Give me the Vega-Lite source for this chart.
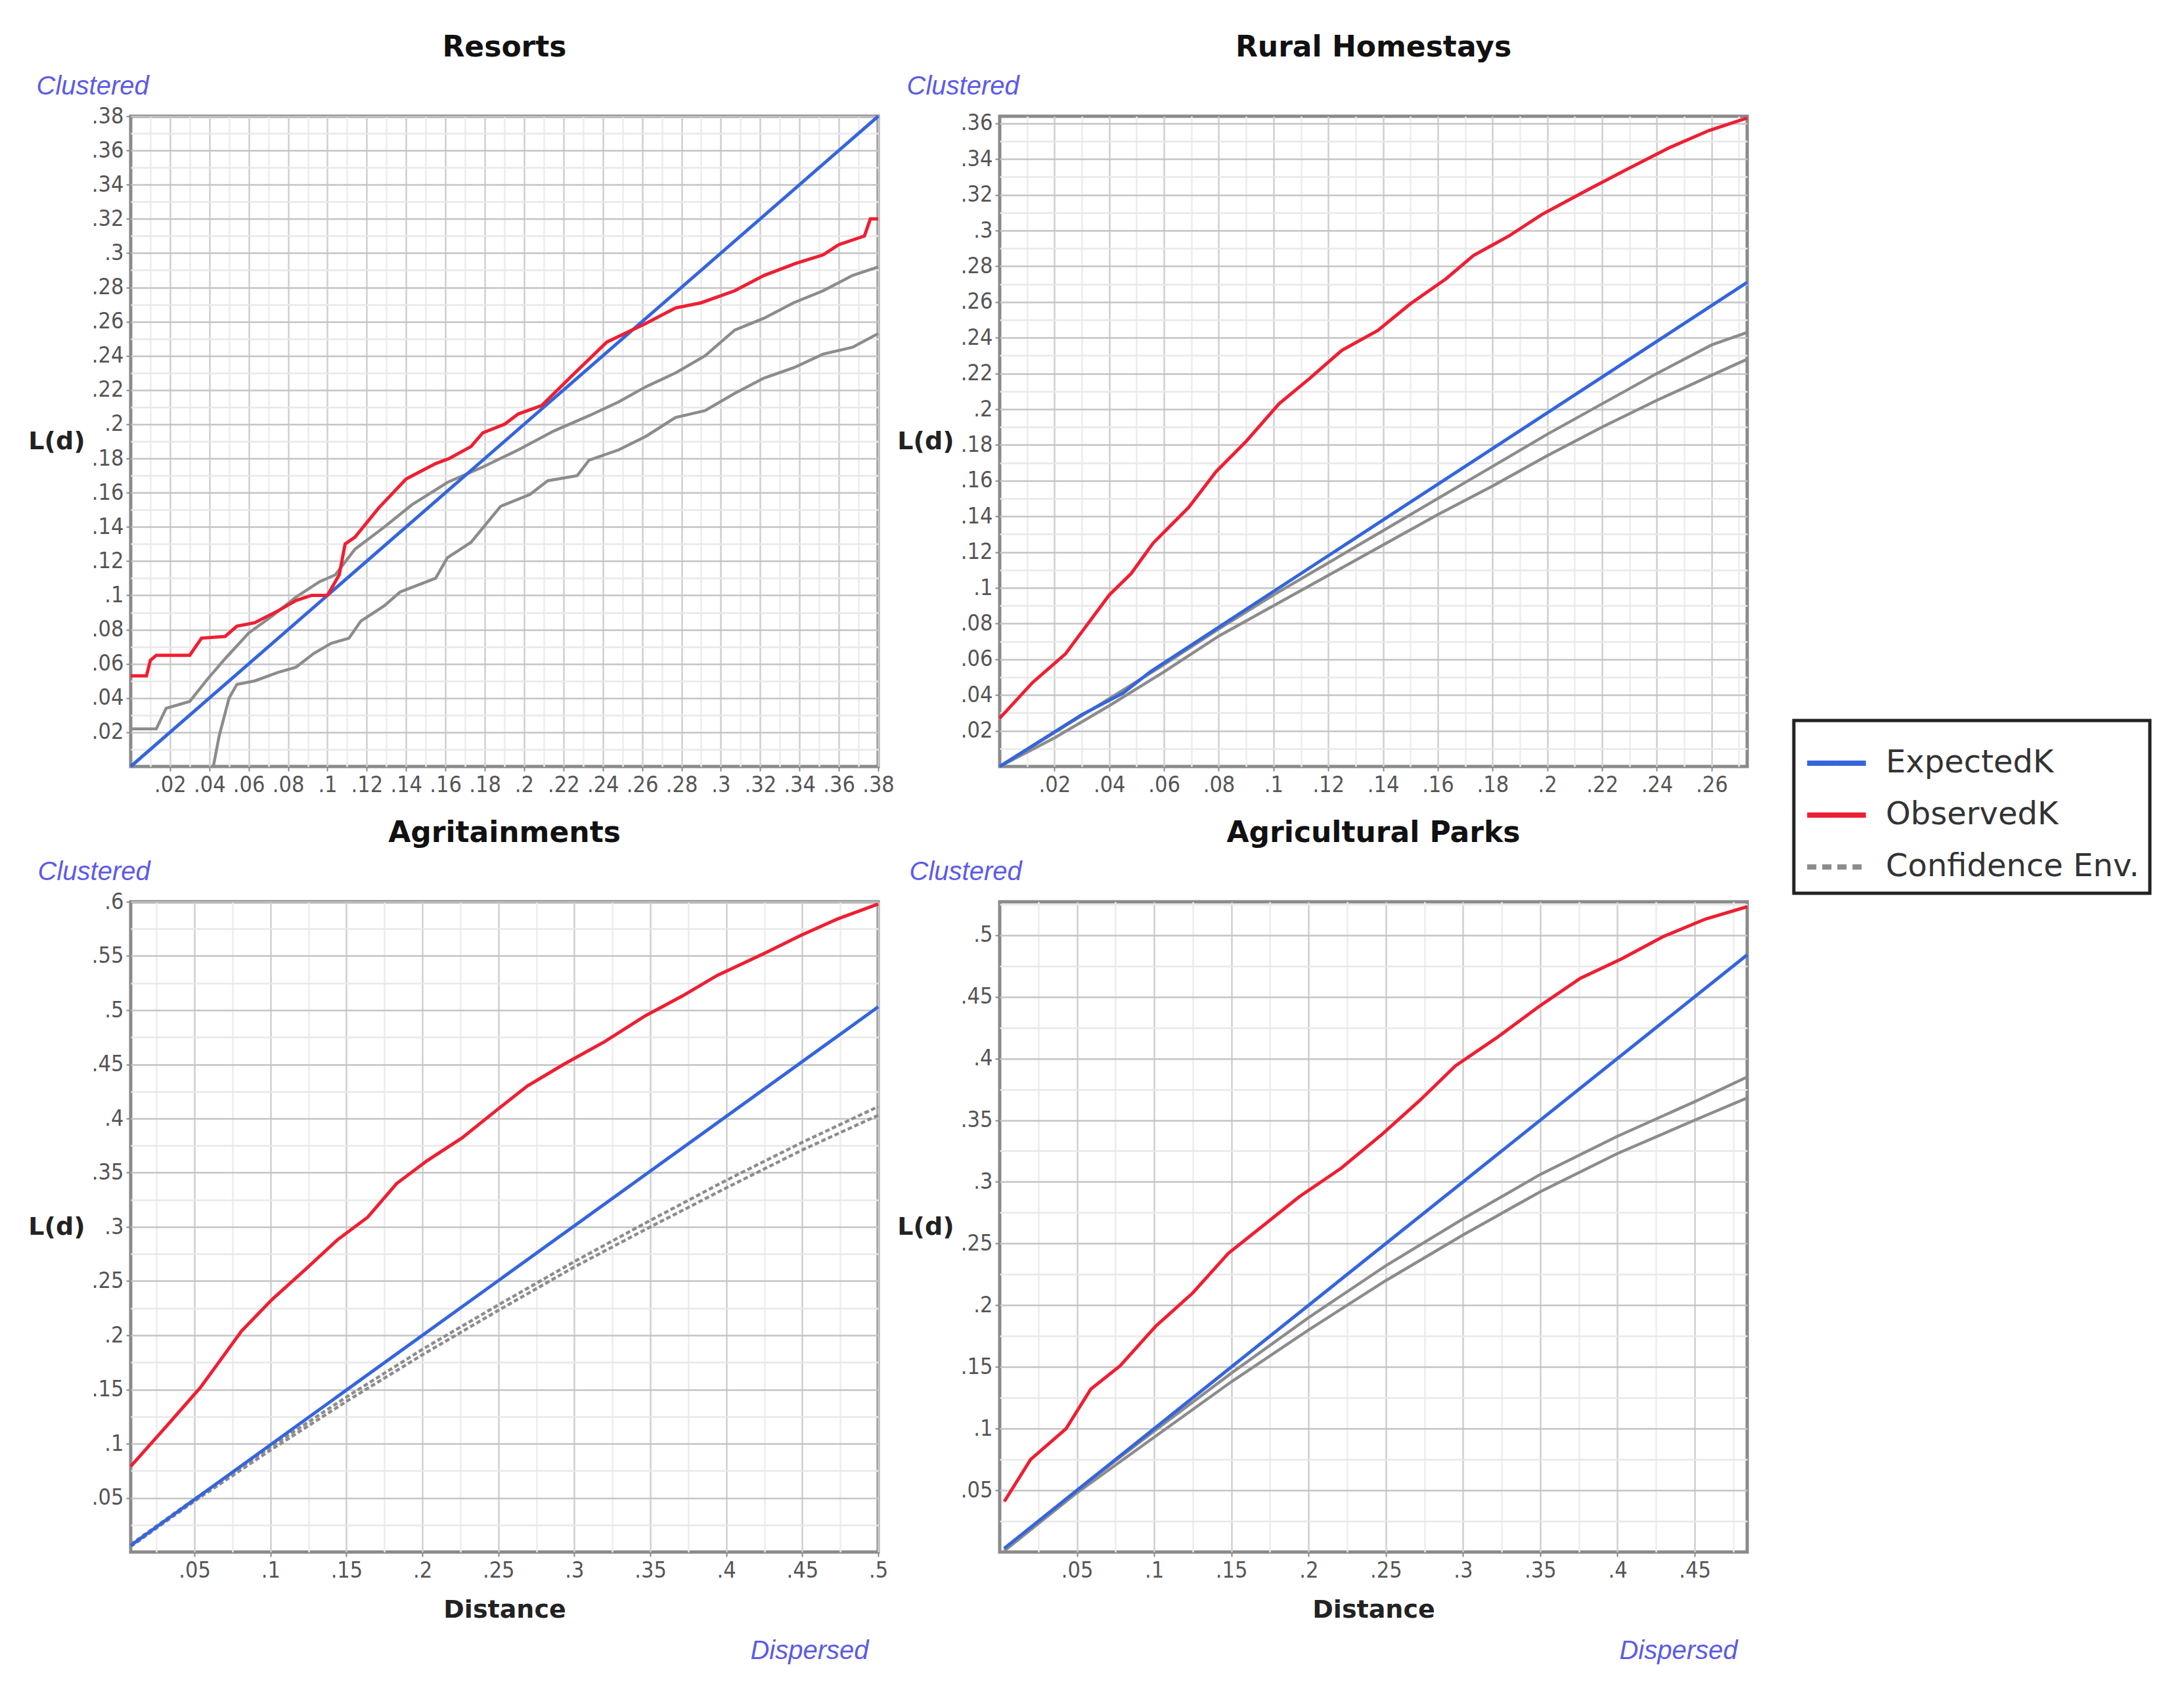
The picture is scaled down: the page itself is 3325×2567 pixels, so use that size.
{
  "$schema": "https://vega.github.io/schema/vega-lite/v6.json",
  "padding": {"left": 40, "top": 48, "right": 10, "bottom": 10},
  "background": "white",
  "bounds": "flush",
  "spacing": {"row": 206, "column": 185},
  "columns": 2,
  "datasets": {
    "Resorts": [
      {"s":"Confidence Env.","e":"Upper","d":0,"L":0.022},{"s":"Confidence Env.","e":"Upper","d":0.013,"L":0.022},{"s":"Confidence Env.","e":"Upper","d":0.018,"L":0.034},{"s":"Confidence Env.","e":"Upper","d":0.03,"L":0.038},{"s":"Confidence Env.","e":"Upper","d":0.039,"L":0.051},{"s":"Confidence Env.","e":"Upper","d":0.048,"L":0.063},{"s":"Confidence Env.","e":"Upper","d":0.06,"L":0.078},{"s":"Confidence Env.","e":"Upper","d":0.072,"L":0.088},{"s":"Confidence Env.","e":"Upper","d":0.084,"L":0.099},{"s":"Confidence Env.","e":"Upper","d":0.096,"L":0.108},{"s":"Confidence Env.","e":"Upper","d":0.104,"L":0.112},{"s":"Confidence Env.","e":"Upper","d":0.114,"L":0.127},{"s":"Confidence Env.","e":"Upper","d":0.129,"L":0.14},{"s":"Confidence Env.","e":"Upper","d":0.143,"L":0.153},{"s":"Confidence Env.","e":"Upper","d":0.161,"L":0.166},{"s":"Confidence Env.","e":"Upper","d":0.179,"L":0.175},{"s":"Confidence Env.","e":"Upper","d":0.197,"L":0.185},{"s":"Confidence Env.","e":"Upper","d":0.215,"L":0.196},{"s":"Confidence Env.","e":"Upper","d":0.233,"L":0.205},{"s":"Confidence Env.","e":"Upper","d":0.248,"L":0.213},{"s":"Confidence Env.","e":"Upper","d":0.262,"L":0.222},{"s":"Confidence Env.","e":"Upper","d":0.277,"L":0.23},{"s":"Confidence Env.","e":"Upper","d":0.292,"L":0.24},{"s":"Confidence Env.","e":"Upper","d":0.307,"L":0.255},{"s":"Confidence Env.","e":"Upper","d":0.322,"L":0.262},{"s":"Confidence Env.","e":"Upper","d":0.337,"L":0.271},{"s":"Confidence Env.","e":"Upper","d":0.352,"L":0.278},{"s":"Confidence Env.","e":"Upper","d":0.367,"L":0.287},{"s":"Confidence Env.","e":"Upper","d":0.38,"L":0.292},
      {"s":"Confidence Env.","e":"Lower","d":0.042,"L":0},{"s":"Confidence Env.","e":"Lower","d":0.045,"L":0.018},{"s":"Confidence Env.","e":"Lower","d":0.05,"L":0.04},{"s":"Confidence Env.","e":"Lower","d":0.054,"L":0.048},{"s":"Confidence Env.","e":"Lower","d":0.063,"L":0.05},{"s":"Confidence Env.","e":"Lower","d":0.075,"L":0.055},{"s":"Confidence Env.","e":"Lower","d":0.084,"L":0.058},{"s":"Confidence Env.","e":"Lower","d":0.093,"L":0.066},{"s":"Confidence Env.","e":"Lower","d":0.102,"L":0.072},{"s":"Confidence Env.","e":"Lower","d":0.111,"L":0.075},{"s":"Confidence Env.","e":"Lower","d":0.117,"L":0.085},{"s":"Confidence Env.","e":"Lower","d":0.129,"L":0.094},{"s":"Confidence Env.","e":"Lower","d":0.137,"L":0.102},{"s":"Confidence Env.","e":"Lower","d":0.155,"L":0.11},{"s":"Confidence Env.","e":"Lower","d":0.161,"L":0.122},{"s":"Confidence Env.","e":"Lower","d":0.173,"L":0.131},{"s":"Confidence Env.","e":"Lower","d":0.188,"L":0.152},{"s":"Confidence Env.","e":"Lower","d":0.203,"L":0.159},{"s":"Confidence Env.","e":"Lower","d":0.212,"L":0.167},{"s":"Confidence Env.","e":"Lower","d":0.227,"L":0.17},{"s":"Confidence Env.","e":"Lower","d":0.233,"L":0.179},{"s":"Confidence Env.","e":"Lower","d":0.248,"L":0.185},{"s":"Confidence Env.","e":"Lower","d":0.262,"L":0.193},{"s":"Confidence Env.","e":"Lower","d":0.277,"L":0.204},{"s":"Confidence Env.","e":"Lower","d":0.292,"L":0.208},{"s":"Confidence Env.","e":"Lower","d":0.307,"L":0.218},{"s":"Confidence Env.","e":"Lower","d":0.322,"L":0.227},{"s":"Confidence Env.","e":"Lower","d":0.337,"L":0.233},{"s":"Confidence Env.","e":"Lower","d":0.352,"L":0.241},{"s":"Confidence Env.","e":"Lower","d":0.367,"L":0.245},{"s":"Confidence Env.","e":"Lower","d":0.38,"L":0.253},
      {"s":"ExpectedK","e":"Expected","d":0,"L":0},{"s":"ExpectedK","e":"Expected","d":0.38,"L":0.38},
      {"s":"ObservedK","e":"Observed","d":0,"L":0.053},{"s":"ObservedK","e":"Observed","d":0.008,"L":0.053},{"s":"ObservedK","e":"Observed","d":0.01,"L":0.062},{"s":"ObservedK","e":"Observed","d":0.013,"L":0.065},{"s":"ObservedK","e":"Observed","d":0.03,"L":0.065},{"s":"ObservedK","e":"Observed","d":0.036,"L":0.075},{"s":"ObservedK","e":"Observed","d":0.048,"L":0.076},{"s":"ObservedK","e":"Observed","d":0.054,"L":0.082},{"s":"ObservedK","e":"Observed","d":0.063,"L":0.084},{"s":"ObservedK","e":"Observed","d":0.075,"L":0.091},{"s":"ObservedK","e":"Observed","d":0.084,"L":0.097},{"s":"ObservedK","e":"Observed","d":0.092,"L":0.1},{"s":"ObservedK","e":"Observed","d":0.1,"L":0.1},{"s":"ObservedK","e":"Observed","d":0.106,"L":0.112},{"s":"ObservedK","e":"Observed","d":0.109,"L":0.13},{"s":"ObservedK","e":"Observed","d":0.114,"L":0.134},{"s":"ObservedK","e":"Observed","d":0.126,"L":0.151},{"s":"ObservedK","e":"Observed","d":0.14,"L":0.168},{"s":"ObservedK","e":"Observed","d":0.155,"L":0.177},{"s":"ObservedK","e":"Observed","d":0.162,"L":0.18},{"s":"ObservedK","e":"Observed","d":0.173,"L":0.187},{"s":"ObservedK","e":"Observed","d":0.179,"L":0.195},{"s":"ObservedK","e":"Observed","d":0.19,"L":0.2},{"s":"ObservedK","e":"Observed","d":0.197,"L":0.206},{"s":"ObservedK","e":"Observed","d":0.209,"L":0.211},{"s":"ObservedK","e":"Observed","d":0.224,"L":0.228},{"s":"ObservedK","e":"Observed","d":0.242,"L":0.248},{"s":"ObservedK","e":"Observed","d":0.262,"L":0.259},{"s":"ObservedK","e":"Observed","d":0.277,"L":0.268},{"s":"ObservedK","e":"Observed","d":0.29,"L":0.271},{"s":"ObservedK","e":"Observed","d":0.307,"L":0.278},{"s":"ObservedK","e":"Observed","d":0.322,"L":0.287},{"s":"ObservedK","e":"Observed","d":0.338,"L":0.294},{"s":"ObservedK","e":"Observed","d":0.352,"L":0.299},{"s":"ObservedK","e":"Observed","d":0.36,"L":0.305},{"s":"ObservedK","e":"Observed","d":0.373,"L":0.31},{"s":"ObservedK","e":"Observed","d":0.376,"L":0.32},{"s":"ObservedK","e":"Observed","d":0.38,"L":0.32}
    ],
    "Homestays": [
      {"s":"Confidence Env.","e":"Upper","d":0,"L":0},{"s":"Confidence Env.","e":"Upper","d":0.02,"L":0.019},{"s":"Confidence Env.","e":"Upper","d":0.04,"L":0.038},{"s":"Confidence Env.","e":"Upper","d":0.06,"L":0.057},{"s":"Confidence Env.","e":"Upper","d":0.08,"L":0.077},{"s":"Confidence Env.","e":"Upper","d":0.1,"L":0.096},{"s":"Confidence Env.","e":"Upper","d":0.12,"L":0.114},{"s":"Confidence Env.","e":"Upper","d":0.14,"L":0.132},{"s":"Confidence Env.","e":"Upper","d":0.16,"L":0.15},{"s":"Confidence Env.","e":"Upper","d":0.18,"L":0.168},{"s":"Confidence Env.","e":"Upper","d":0.2,"L":0.186},{"s":"Confidence Env.","e":"Upper","d":0.22,"L":0.203},{"s":"Confidence Env.","e":"Upper","d":0.24,"L":0.22},{"s":"Confidence Env.","e":"Upper","d":0.26,"L":0.236},{"s":"Confidence Env.","e":"Upper","d":0.273,"L":0.243},
      {"s":"Confidence Env.","e":"Lower","d":0,"L":0},{"s":"Confidence Env.","e":"Lower","d":0.02,"L":0.016},{"s":"Confidence Env.","e":"Lower","d":0.04,"L":0.034},{"s":"Confidence Env.","e":"Lower","d":0.06,"L":0.053},{"s":"Confidence Env.","e":"Lower","d":0.08,"L":0.073},{"s":"Confidence Env.","e":"Lower","d":0.1,"L":0.09},{"s":"Confidence Env.","e":"Lower","d":0.12,"L":0.107},{"s":"Confidence Env.","e":"Lower","d":0.14,"L":0.124},{"s":"Confidence Env.","e":"Lower","d":0.16,"L":0.141},{"s":"Confidence Env.","e":"Lower","d":0.18,"L":0.157},{"s":"Confidence Env.","e":"Lower","d":0.2,"L":0.174},{"s":"Confidence Env.","e":"Lower","d":0.22,"L":0.19},{"s":"Confidence Env.","e":"Lower","d":0.24,"L":0.205},{"s":"Confidence Env.","e":"Lower","d":0.26,"L":0.219},{"s":"Confidence Env.","e":"Lower","d":0.273,"L":0.228},
      {"s":"ExpectedK","e":"Expected","d":0,"L":0},{"s":"ExpectedK","e":"Expected","d":0.03,"L":0.029},{"s":"ExpectedK","e":"Expected","d":0.045,"L":0.041},{"s":"ExpectedK","e":"Expected","d":0.055,"L":0.053},{"s":"ExpectedK","e":"Expected","d":0.273,"L":0.271},
      {"s":"ObservedK","e":"Observed","d":0,"L":0.027},{"s":"ObservedK","e":"Observed","d":0.012,"L":0.047},{"s":"ObservedK","e":"Observed","d":0.024,"L":0.063},{"s":"ObservedK","e":"Observed","d":0.04,"L":0.096},{"s":"ObservedK","e":"Observed","d":0.048,"L":0.108},{"s":"ObservedK","e":"Observed","d":0.056,"L":0.125},{"s":"ObservedK","e":"Observed","d":0.069,"L":0.145},{"s":"ObservedK","e":"Observed","d":0.079,"L":0.165},{"s":"ObservedK","e":"Observed","d":0.09,"L":0.182},{"s":"ObservedK","e":"Observed","d":0.102,"L":0.203},{"s":"ObservedK","e":"Observed","d":0.113,"L":0.217},{"s":"ObservedK","e":"Observed","d":0.125,"L":0.233},{"s":"ObservedK","e":"Observed","d":0.138,"L":0.244},{"s":"ObservedK","e":"Observed","d":0.15,"L":0.259},{"s":"ObservedK","e":"Observed","d":0.163,"L":0.273},{"s":"ObservedK","e":"Observed","d":0.173,"L":0.286},{"s":"ObservedK","e":"Observed","d":0.186,"L":0.297},{"s":"ObservedK","e":"Observed","d":0.198,"L":0.309},{"s":"ObservedK","e":"Observed","d":0.215,"L":0.323},{"s":"ObservedK","e":"Observed","d":0.23,"L":0.335},{"s":"ObservedK","e":"Observed","d":0.244,"L":0.346},{"s":"ObservedK","e":"Observed","d":0.259,"L":0.356},{"s":"ObservedK","e":"Observed","d":0.273,"L":0.363}
    ],
    "Agritainments": [
      {"s":"Confidence Env.","e":"Upper","d":0.008,"L":0.007},{"s":"Confidence Env.","e":"Upper","d":0.05,"L":0.049},{"s":"Confidence Env.","e":"Upper","d":0.1,"L":0.097},{"s":"Confidence Env.","e":"Upper","d":0.15,"L":0.143},{"s":"Confidence Env.","e":"Upper","d":0.2,"L":0.187},{"s":"Confidence Env.","e":"Upper","d":0.25,"L":0.228},{"s":"Confidence Env.","e":"Upper","d":0.3,"L":0.268},{"s":"Confidence Env.","e":"Upper","d":0.35,"L":0.306},{"s":"Confidence Env.","e":"Upper","d":0.4,"L":0.343},{"s":"Confidence Env.","e":"Upper","d":0.45,"L":0.378},{"s":"Confidence Env.","e":"Upper","d":0.5,"L":0.411},
      {"s":"Confidence Env.","e":"Lower","d":0.008,"L":0.005},{"s":"Confidence Env.","e":"Lower","d":0.05,"L":0.047},{"s":"Confidence Env.","e":"Lower","d":0.1,"L":0.094},{"s":"Confidence Env.","e":"Lower","d":0.15,"L":0.139},{"s":"Confidence Env.","e":"Lower","d":0.2,"L":0.182},{"s":"Confidence Env.","e":"Lower","d":0.25,"L":0.223},{"s":"Confidence Env.","e":"Lower","d":0.3,"L":0.263},{"s":"Confidence Env.","e":"Lower","d":0.35,"L":0.3},{"s":"Confidence Env.","e":"Lower","d":0.4,"L":0.336},{"s":"Confidence Env.","e":"Lower","d":0.45,"L":0.371},{"s":"Confidence Env.","e":"Lower","d":0.5,"L":0.403},
      {"s":"ExpectedK","e":"Expected","d":0.008,"L":0.006},{"s":"ExpectedK","e":"Expected","d":0.5,"L":0.503},
      {"s":"ObservedK","e":"Observed","d":0.008,"L":0.079},{"s":"ObservedK","e":"Observed","d":0.034,"L":0.12},{"s":"ObservedK","e":"Observed","d":0.054,"L":0.152},{"s":"ObservedK","e":"Observed","d":0.081,"L":0.204},{"s":"ObservedK","e":"Observed","d":0.101,"L":0.233},{"s":"ObservedK","e":"Observed","d":0.124,"L":0.262},{"s":"ObservedK","e":"Observed","d":0.144,"L":0.288},{"s":"ObservedK","e":"Observed","d":0.164,"L":0.309},{"s":"ObservedK","e":"Observed","d":0.183,"L":0.34},{"s":"ObservedK","e":"Observed","d":0.203,"L":0.361},{"s":"ObservedK","e":"Observed","d":0.226,"L":0.382},{"s":"ObservedK","e":"Observed","d":0.25,"L":0.409},{"s":"ObservedK","e":"Observed","d":0.269,"L":0.43},{"s":"ObservedK","e":"Observed","d":0.293,"L":0.45},{"s":"ObservedK","e":"Observed","d":0.32,"L":0.471},{"s":"ObservedK","e":"Observed","d":0.347,"L":0.495},{"s":"ObservedK","e":"Observed","d":0.371,"L":0.513},{"s":"ObservedK","e":"Observed","d":0.394,"L":0.532},{"s":"ObservedK","e":"Observed","d":0.426,"L":0.553},{"s":"ObservedK","e":"Observed","d":0.449,"L":0.569},{"s":"ObservedK","e":"Observed","d":0.473,"L":0.584},{"s":"ObservedK","e":"Observed","d":0.5,"L":0.598}
    ],
    "Parks": [
      {"s":"Confidence Env.","e":"Upper","d":0.003,"L":0.002},{"s":"Confidence Env.","e":"Upper","d":0.05,"L":0.05},{"s":"Confidence Env.","e":"Upper","d":0.1,"L":0.098},{"s":"Confidence Env.","e":"Upper","d":0.15,"L":0.145},{"s":"Confidence Env.","e":"Upper","d":0.2,"L":0.19},{"s":"Confidence Env.","e":"Upper","d":0.25,"L":0.232},{"s":"Confidence Env.","e":"Upper","d":0.3,"L":0.27},{"s":"Confidence Env.","e":"Upper","d":0.35,"L":0.306},{"s":"Confidence Env.","e":"Upper","d":0.4,"L":0.337},{"s":"Confidence Env.","e":"Upper","d":0.45,"L":0.365},{"s":"Confidence Env.","e":"Upper","d":0.484,"L":0.385},
      {"s":"Confidence Env.","e":"Lower","d":0.003,"L":0.001},{"s":"Confidence Env.","e":"Lower","d":0.05,"L":0.048},{"s":"Confidence Env.","e":"Lower","d":0.1,"L":0.093},{"s":"Confidence Env.","e":"Lower","d":0.15,"L":0.138},{"s":"Confidence Env.","e":"Lower","d":0.2,"L":0.18},{"s":"Confidence Env.","e":"Lower","d":0.25,"L":0.22},{"s":"Confidence Env.","e":"Lower","d":0.3,"L":0.257},{"s":"Confidence Env.","e":"Lower","d":0.35,"L":0.292},{"s":"Confidence Env.","e":"Lower","d":0.4,"L":0.323},{"s":"Confidence Env.","e":"Lower","d":0.45,"L":0.35},{"s":"Confidence Env.","e":"Lower","d":0.484,"L":0.368},
      {"s":"ExpectedK","e":"Expected","d":0.003,"L":0.003},{"s":"ExpectedK","e":"Expected","d":0.484,"L":0.484},
      {"s":"ObservedK","e":"Observed","d":0.003,"L":0.041},{"s":"ObservedK","e":"Observed","d":0.02,"L":0.075},{"s":"ObservedK","e":"Observed","d":0.043,"L":0.1},{"s":"ObservedK","e":"Observed","d":0.059,"L":0.132},{"s":"ObservedK","e":"Observed","d":0.078,"L":0.151},{"s":"ObservedK","e":"Observed","d":0.101,"L":0.183},{"s":"ObservedK","e":"Observed","d":0.125,"L":0.21},{"s":"ObservedK","e":"Observed","d":0.148,"L":0.242},{"s":"ObservedK","e":"Observed","d":0.171,"L":0.265},{"s":"ObservedK","e":"Observed","d":0.194,"L":0.288},{"s":"ObservedK","e":"Observed","d":0.221,"L":0.311},{"s":"ObservedK","e":"Observed","d":0.248,"L":0.339},{"s":"ObservedK","e":"Observed","d":0.272,"L":0.366},{"s":"ObservedK","e":"Observed","d":0.295,"L":0.394},{"s":"ObservedK","e":"Observed","d":0.322,"L":0.417},{"s":"ObservedK","e":"Observed","d":0.349,"L":0.442},{"s":"ObservedK","e":"Observed","d":0.376,"L":0.465},{"s":"ObservedK","e":"Observed","d":0.403,"L":0.481},{"s":"ObservedK","e":"Observed","d":0.43,"L":0.499},{"s":"ObservedK","e":"Observed","d":0.457,"L":0.513},{"s":"ObservedK","e":"Observed","d":0.484,"L":0.523}
    ]
  },
  "concat": [
    {
      "width": 1138, "height": 990,
      "title": {"text": "Resorts"},
      "data": {"name": "Resorts"},
      "resolve": {"axis": {"x": "independent", "y": "independent"}},
      "layer": [
        {"transform": [{"filter": "datum.s === 'Confidence Env.'"}], "mark": {"type": "line", "strokeWidth": 4.5},
          "encoding": {
            "x": {"field": "d", "type": "quantitative", "scale": {"domain": [0, 0.38], "nice": false, "zero": false},
              "axis": {"orient": "bottom", "title": null, "values": [0.01,0.02,0.03,0.04,0.05,0.06,0.07,0.08,0.09,0.1,0.11,0.12,0.13,0.14,0.15,0.16,0.17,0.18,0.19,0.2,0.21,0.22,0.23,0.24,0.25,0.26,0.27,0.28,0.29,0.3,0.31,0.32,0.33,0.34,0.35,0.36,0.37,0.38],
                "labelExpr": "abs(datum.value*50-round(datum.value*50))<0.001 ? replace(format(datum.value,'.2~f'),'0.','.') : ''",
                "gridColor": {"condition": {"test": "abs(datum.value*50-round(datum.value*50))<0.001", "value": "#cfcfcf"}, "value": "#ededed"},
                "tickOpacity": {"condition": {"test": "abs(datum.value*50-round(datum.value*50))<0.001", "value": 1}, "value": 0}}},
            "y": {"field": "L", "type": "quantitative", "scale": {"domain": [0, 0.38], "nice": false, "zero": false},
              "axis": {"orient": "left", "title": "L(d)", "values": [0.01,0.02,0.03,0.04,0.05,0.06,0.07,0.08,0.09,0.1,0.11,0.12,0.13,0.14,0.15,0.16,0.17,0.18,0.19,0.2,0.21,0.22,0.23,0.24,0.25,0.26,0.27,0.28,0.29,0.3,0.31,0.32,0.33,0.34,0.35,0.36,0.37,0.38],
                "labelExpr": "abs(datum.value*50-round(datum.value*50))<0.001 ? replace(format(datum.value,'.2~f'),'0.','.') : ''",
                "gridColor": {"condition": {"test": "abs(datum.value*50-round(datum.value*50))<0.001", "value": "#c4c4c4"}, "value": "#e8e8e8"},
                "tickOpacity": {"condition": {"test": "abs(datum.value*50-round(datum.value*50))<0.001", "value": 1}, "value": 0},
                "titleY": 495}},
            "color": {"field": "s", "type": "nominal", "scale": {"domain": ["ExpectedK", "ObservedK", "Confidence Env."], "range": ["#3465dc", "#ee1f33", "#8c8c8c"]},
              "legend": {"encode": {"symbols": {"update": {"strokeDash": {"signal": "datum.value === 'Confidence Env.' ? [14, 9] : [1, 0]"}}}}}},
            "detail": {"field": "e"}}},
        {"transform": [{"filter": "datum.s !== 'Confidence Env.'"}], "mark": {"type": "line", "strokeWidth": 5},
          "encoding": {
            "x": {"field": "d", "type": "quantitative",
              "axis": {"orient": "top", "title": "Clustered", "labels": false, "ticks": false, "grid": false, "domain": false,
                "titleAnchor": "start", "titleAlign": "left", "titleBaseline": "bottom", "titleX": -144, "titleY": -26,
                "titleFont": "Liberation Sans", "titleFontStyle": "italic", "titleFontWeight": "normal", "titleFontSize": 40, "titleColor": "#5b5be8"}},
            "y": {"field": "L", "type": "quantitative", "axis": null},
            "color": {"field": "s", "type": "nominal", "scale": {"domain": ["ExpectedK", "ObservedK", "Confidence Env."], "range": ["#3465dc", "#ee1f33", "#8c8c8c"]},
              "legend": {"encode": {"symbols": {"update": {"strokeDash": {"signal": "datum.value === 'Confidence Env.' ? [14, 9] : [1, 0]"}}}}}},
            "detail": {"field": "e"}}}
      ]
    },
    {
      "width": 1138, "height": 990,
      "title": {"text": "Rural Homestays"},
      "data": {"name": "Homestays"},
      "resolve": {"axis": {"x": "independent", "y": "independent"}},
      "layer": [
        {"transform": [{"filter": "datum.s === 'Confidence Env.'"}], "mark": {"type": "line", "strokeWidth": 4.5},
          "encoding": {
            "x": {"field": "d", "type": "quantitative", "scale": {"domain": [0, 0.273], "nice": false, "zero": false},
              "axis": {"orient": "bottom", "title": null, "values": [0.01,0.02,0.03,0.04,0.05,0.06,0.07,0.08,0.09,0.1,0.11,0.12,0.13,0.14,0.15,0.16,0.17,0.18,0.19,0.2,0.21,0.22,0.23,0.24,0.25,0.26,0.27],
                "labelExpr": "abs(datum.value*50-round(datum.value*50))<0.001 ? replace(format(datum.value,'.2~f'),'0.','.') : ''",
                "gridColor": {"condition": {"test": "abs(datum.value*50-round(datum.value*50))<0.001", "value": "#cfcfcf"}, "value": "#ededed"},
                "tickOpacity": {"condition": {"test": "abs(datum.value*50-round(datum.value*50))<0.001", "value": 1}, "value": 0}}},
            "y": {"field": "L", "type": "quantitative", "scale": {"domain": [0, 0.364], "nice": false, "zero": false},
              "axis": {"orient": "left", "title": "L(d)", "values": [0.01,0.02,0.03,0.04,0.05,0.06,0.07,0.08,0.09,0.1,0.11,0.12,0.13,0.14,0.15,0.16,0.17,0.18,0.19,0.2,0.21,0.22,0.23,0.24,0.25,0.26,0.27,0.28,0.29,0.3,0.31,0.32,0.33,0.34,0.35,0.36],
                "labelExpr": "abs(datum.value*50-round(datum.value*50))<0.001 ? replace(format(datum.value,'.2~f'),'0.','.') : ''",
                "gridColor": {"condition": {"test": "abs(datum.value*50-round(datum.value*50))<0.001", "value": "#c4c4c4"}, "value": "#e8e8e8"},
                "tickOpacity": {"condition": {"test": "abs(datum.value*50-round(datum.value*50))<0.001", "value": 1}, "value": 0},
                "titleY": 495}},
            "color": {"field": "s", "type": "nominal", "scale": {"domain": ["ExpectedK", "ObservedK", "Confidence Env."], "range": ["#3465dc", "#ee1f33", "#8c8c8c"]},
              "legend": {"encode": {"symbols": {"update": {"strokeDash": {"signal": "datum.value === 'Confidence Env.' ? [14, 9] : [1, 0]"}}}}}},
            "detail": {"field": "e"}}},
        {"transform": [{"filter": "datum.s !== 'Confidence Env.'"}], "mark": {"type": "line", "strokeWidth": 5},
          "encoding": {
            "x": {"field": "d", "type": "quantitative",
              "axis": {"orient": "top", "title": "Clustered", "labels": false, "ticks": false, "grid": false, "domain": false,
                "titleAnchor": "start", "titleAlign": "left", "titleBaseline": "bottom", "titleX": -142, "titleY": -26,
                "titleFont": "Liberation Sans", "titleFontStyle": "italic", "titleFontWeight": "normal", "titleFontSize": 40, "titleColor": "#5b5be8"}},
            "y": {"field": "L", "type": "quantitative", "axis": null},
            "color": {"field": "s", "type": "nominal", "scale": {"domain": ["ExpectedK", "ObservedK", "Confidence Env."], "range": ["#3465dc", "#ee1f33", "#8c8c8c"]},
              "legend": {"encode": {"symbols": {"update": {"strokeDash": {"signal": "datum.value === 'Confidence Env.' ? [14, 9] : [1, 0]"}}}}}},
            "detail": {"field": "e"}}}
      ]
    },
    {
      "width": 1138, "height": 990,
      "title": {"text": "Agritainments"},
      "data": {"name": "Agritainments"},
      "resolve": {"axis": {"x": "independent", "y": "independent"}},
      "layer": [
        {"transform": [{"filter": "datum.s === 'Confidence Env.'"}], "mark": {"type": "line", "strokeWidth": 4.5, "strokeDash": [7, 4]},
          "encoding": {
            "x": {"field": "d", "type": "quantitative", "scale": {"domain": [0.008, 0.5], "nice": false, "zero": false},
              "axis": {"orient": "bottom", "title": "Distance", "titleY": 88, "titleBaseline": "middle", "values": [0.025,0.05,0.075,0.1,0.125,0.15,0.175,0.2,0.225,0.25,0.275,0.3,0.325,0.35,0.375,0.4,0.425,0.45,0.475,0.5],
                "labelExpr": "abs(datum.value*20-round(datum.value*20))<0.001 ? replace(format(datum.value,'.2~f'),'0.','.') : ''",
                "gridColor": {"condition": {"test": "abs(datum.value*20-round(datum.value*20))<0.001", "value": "#cfcfcf"}, "value": "#ededed"},
                "tickOpacity": {"condition": {"test": "abs(datum.value*20-round(datum.value*20))<0.001", "value": 1}, "value": 0}}},
            "y": {"field": "L", "type": "quantitative", "scale": {"domain": [0, 0.6], "nice": false, "zero": false},
              "axis": {"orient": "left", "title": "L(d)", "values": [0.025,0.05,0.075,0.1,0.125,0.15,0.175,0.2,0.225,0.25,0.275,0.3,0.325,0.35,0.375,0.4,0.425,0.45,0.475,0.5,0.525,0.55,0.575,0.6],
                "labelExpr": "abs(datum.value*20-round(datum.value*20))<0.001 ? replace(format(datum.value,'.2~f'),'0.','.') : ''",
                "gridColor": {"condition": {"test": "abs(datum.value*20-round(datum.value*20))<0.001", "value": "#c4c4c4"}, "value": "#e8e8e8"},
                "tickOpacity": {"condition": {"test": "abs(datum.value*20-round(datum.value*20))<0.001", "value": 1}, "value": 0},
                "titleY": 495}},
            "color": {"field": "s", "type": "nominal", "scale": {"domain": ["ExpectedK", "ObservedK", "Confidence Env."], "range": ["#3465dc", "#ee1f33", "#8c8c8c"]},
              "legend": {"encode": {"symbols": {"update": {"strokeDash": {"signal": "datum.value === 'Confidence Env.' ? [14, 9] : [1, 0]"}}}}}},
            "detail": {"field": "e"}}},
        {"transform": [{"filter": "datum.s !== 'Confidence Env.'"}], "mark": {"type": "line", "strokeWidth": 5},
          "encoding": {
            "x": {"field": "d", "type": "quantitative",
              "axis": {"orient": "top", "title": "Clustered", "labels": false, "ticks": false, "grid": false, "domain": false,
                "titleAnchor": "start", "titleAlign": "left", "titleBaseline": "bottom", "titleX": -142, "titleY": -26,
                "titleFont": "Liberation Sans", "titleFontStyle": "italic", "titleFontWeight": "normal", "titleFontSize": 40, "titleColor": "#5b5be8"}},
            "y": {"field": "L", "type": "quantitative",
              "axis": {"orient": "right", "title": "Dispersed", "labels": false, "ticks": false, "grid": false, "domain": false,
                "titleAngle": 0, "titleAlign": "right", "titleBaseline": "middle", "titleX": -15, "titleY": 1140,
                "titleFont": "Liberation Sans", "titleFontStyle": "italic", "titleFontWeight": "normal", "titleFontSize": 40, "titleColor": "#5b5be8"}},
            "color": {"field": "s", "type": "nominal", "scale": {"domain": ["ExpectedK", "ObservedK", "Confidence Env."], "range": ["#3465dc", "#ee1f33", "#8c8c8c"]},
              "legend": {"encode": {"symbols": {"update": {"strokeDash": {"signal": "datum.value === 'Confidence Env.' ? [14, 9] : [1, 0]"}}}}}},
            "detail": {"field": "e"}}}
      ]
    },
    {
      "width": 1138, "height": 990,
      "title": {"text": "Agricultural Parks"},
      "data": {"name": "Parks"},
      "resolve": {"axis": {"x": "independent", "y": "independent"}},
      "layer": [
        {"transform": [{"filter": "datum.s === 'Confidence Env.'"}], "mark": {"type": "line", "strokeWidth": 4.5},
          "encoding": {
            "x": {"field": "d", "type": "quantitative", "scale": {"domain": [0, 0.484], "nice": false, "zero": false},
              "axis": {"orient": "bottom", "title": "Distance", "titleY": 88, "titleBaseline": "middle", "values": [0.025,0.05,0.075,0.1,0.125,0.15,0.175,0.2,0.225,0.25,0.275,0.3,0.325,0.35,0.375,0.4,0.425,0.45,0.475],
                "labelExpr": "abs(datum.value*20-round(datum.value*20))<0.001 ? replace(format(datum.value,'.2~f'),'0.','.') : ''",
                "gridColor": {"condition": {"test": "abs(datum.value*20-round(datum.value*20))<0.001", "value": "#cfcfcf"}, "value": "#ededed"},
                "tickOpacity": {"condition": {"test": "abs(datum.value*20-round(datum.value*20))<0.001", "value": 1}, "value": 0}}},
            "y": {"field": "L", "type": "quantitative", "scale": {"domain": [0, 0.527], "nice": false, "zero": false},
              "axis": {"orient": "left", "title": "L(d)", "values": [0.025,0.05,0.075,0.1,0.125,0.15,0.175,0.2,0.225,0.25,0.275,0.3,0.325,0.35,0.375,0.4,0.425,0.45,0.475,0.5,0.525],
                "labelExpr": "abs(datum.value*20-round(datum.value*20))<0.001 ? replace(format(datum.value,'.2~f'),'0.','.') : ''",
                "gridColor": {"condition": {"test": "abs(datum.value*20-round(datum.value*20))<0.001", "value": "#c4c4c4"}, "value": "#e8e8e8"},
                "tickOpacity": {"condition": {"test": "abs(datum.value*20-round(datum.value*20))<0.001", "value": 1}, "value": 0},
                "titleY": 495}},
            "color": {"field": "s", "type": "nominal", "scale": {"domain": ["ExpectedK", "ObservedK", "Confidence Env."], "range": ["#3465dc", "#ee1f33", "#8c8c8c"]},
              "legend": {"encode": {"symbols": {"update": {"strokeDash": {"signal": "datum.value === 'Confidence Env.' ? [14, 9] : [1, 0]"}}}}}},
            "detail": {"field": "e"}}},
        {"transform": [{"filter": "datum.s !== 'Confidence Env.'"}], "mark": {"type": "line", "strokeWidth": 5},
          "encoding": {
            "x": {"field": "d", "type": "quantitative",
              "axis": {"orient": "top", "title": "Clustered", "labels": false, "ticks": false, "grid": false, "domain": false,
                "titleAnchor": "start", "titleAlign": "left", "titleBaseline": "bottom", "titleX": -138, "titleY": -26,
                "titleFont": "Liberation Sans", "titleFontStyle": "italic", "titleFontWeight": "normal", "titleFontSize": 40, "titleColor": "#5b5be8"}},
            "y": {"field": "L", "type": "quantitative",
              "axis": {"orient": "right", "title": "Dispersed", "labels": false, "ticks": false, "grid": false, "domain": false,
                "titleAngle": 0, "titleAlign": "right", "titleBaseline": "middle", "titleX": -15, "titleY": 1140,
                "titleFont": "Liberation Sans", "titleFontStyle": "italic", "titleFontWeight": "normal", "titleFontSize": 40, "titleColor": "#5b5be8"}},
            "color": {"field": "s", "type": "nominal", "scale": {"domain": ["ExpectedK", "ObservedK", "Confidence Env."], "range": ["#3465dc", "#ee1f33", "#8c8c8c"]},
              "legend": {"encode": {"symbols": {"update": {"strokeDash": {"signal": "datum.value === 'Confidence Env.' ? [14, 9] : [1, 0]"}}}}}},
            "detail": {"field": "e"}}}
      ]
    }
  ],
  "resolve": {"scale": {"x": "independent", "y": "independent", "color": "shared"}},
  "config": {
    "view": {"stroke": "#8a8a8a", "strokeWidth": 5},
    "font": "DejaVu Sans",
    "axis": {
      "labelFont": "Liberation Sans Narrow, DejaVu Sans Condensed, Liberation Sans",
      "labelFontSize": 34, "labelColor": "#555555", "labelPadding": 4,
      "labelOverlap": false, "labelFlush": false, "labelBound": false,
      "domain": false, "ticks": true, "tickColor": "#888888", "tickSize": 7, "tickWidth": 2,
      "grid": true, "gridWidth": 2.5,
      "titleFont": "DejaVu Sans", "titleFontWeight": "bold", "titleFontSize": 38, "titleColor": "#222222"
    },
    "axisLeft": {"titleAngle": 0, "titleAlign": "right", "titleBaseline": "middle", "titleX": -70},
    "title": {"font": "DejaVu Sans", "fontSize": 44, "fontWeight": "bold", "color": "#111111", "offset": 16, "anchor": "middle"},
    "legend": {
      "title": null,
      "orient": "none", "legendX": 2532, "legendY": 920,
      "strokeColor": "#222222", "strokeWidth": 5, "fillColor": "white",
      "padding": 16, "symbolType": "stroke", "symbolSize": 8000, "symbolStrokeWidth": 8,
      "labelFont": "DejaVu Sans", "labelFontSize": 48, "labelColor": "#333333", "labelOffset": 26,
      "rowPadding": 6, "labelLimit": 600
    }
  }
}
